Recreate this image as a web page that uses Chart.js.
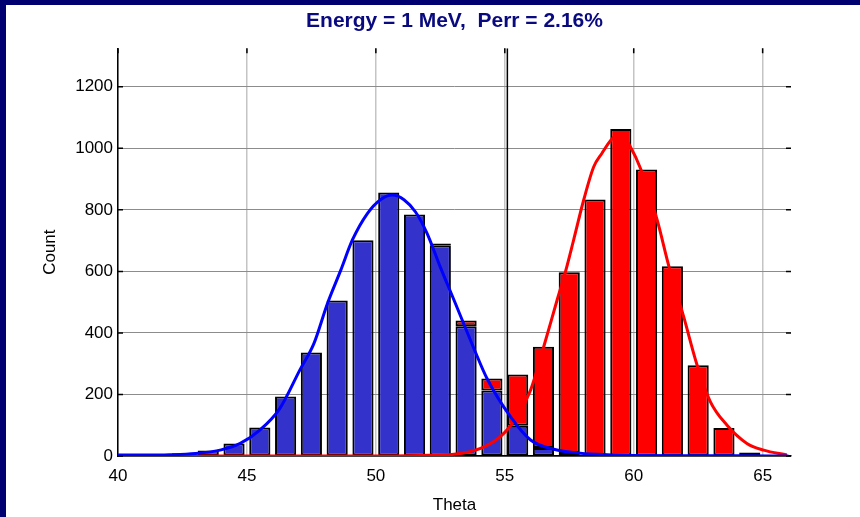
<!DOCTYPE html>
<html>
<head>
<meta charset="utf-8">
<script src="https://cdn.jsdelivr.net/npm/chart.js@4"></script>
<style>
  html, body { margin: 0; padding: 0; background: #000070; }
  #frame { position: absolute; left: 6px; top: 5px; width: 854px; height: 512px; background: #fff; }
</style>
</head>
<body>
<div id="frame"><canvas id="thetaChart" width="854" height="512"></canvas></div>
<script>
// histogram bins (Theta) and counts, blue at the bottom, red stacked on top
const binCenters = [42.5, 43.5, 44.5, 45.5, 46.5, 47.5, 48.5, 49.5, 50.5, 51.5, 52.5, 53.5,
                    54.5, 55.5, 56.5, 57.5, 58.5, 59.5, 60.5, 61.5, 62.5, 63.5, 64.5];
const blueCounts = [9, 18, 41, 93, 193, 336, 505, 701, 856, 785, 685, 422,
                    213, 98, 26, 10, 3, 2, 1, 0, 0, 0, 0];
const redCounts  = [0, 0, 0, 0, 0, 0, 0, 0, 0, 0, 6, 18,
                    39, 167, 329, 587, 831, 1061, 930, 617, 295, 91, 11];

// fitted curves
const blueFitX = [40, 41, 42, 43, 44, 44.74, 45.5, 46.28, 47.05, 47.6, 48.12, 48.64, 49.09, 49.67,
                  50.18, 50.64, 51.09, 51.54, 51.99, 52.5, 53.03, 53.8, 54.31, 55.22, 56, 56.9,
                  57.93, 58.97, 60, 62, 64, 66];
const blueFitY = [3, 3, 4, 8, 20, 41, 84, 155, 279, 366, 495, 604, 702, 788,
                  833, 848, 833, 793, 723, 614, 507, 350, 252, 128, 52, 22,
                  9, 4, 2, 1, 1, 0];
const redFitX = [40, 44, 48, 50, 51.73, 53.03, 54.06, 54.83, 55.48, 56, 56.51, 57.03, 57.35, 57.67,
                 58.06, 58.45, 58.77, 59.12, 59.48, 59.87, 60.26, 60.91, 61.36, 61.94, 62.46,
                 62.97, 63.62, 64.39, 65.04, 65.94];
const redFitY = [0, 0, 0, 0, 2, 6, 25, 63, 128, 214, 355, 507, 598, 702,
                 832, 940, 984, 1027, 1050, 1005, 935, 767, 618, 452, 295,
                 177, 100, 41, 19, 3];

const cutTheta = 55.1;
const xTicks = [40, 45, 50, 55, 60, 65];
const yTicks = [0, 200, 400, 600, 800, 1000, 1200];
const xMin = 40, xMax = 66.1, yMax = 1325;
const chartTitle = 'Energy = 1 MeV,  Perr = 2.16%';

const toPoints = (xs, ys) => xs.map((x, i) => ({ x: x, y: ys[i] }));

// title centred over the plot area, plus small inward black ticks on the box edges
const plotDecor = {
    id: 'plotDecor',
    afterDraw(chart) {
        const { ctx, chartArea: a, scales: { x, y } } = chart;
        ctx.save();
        ctx.strokeStyle = '#000';
        ctx.lineWidth = 1.5;
        ctx.beginPath();
        xTicks.forEach(v => {
            const px = x.getPixelForValue(v);
            ctx.moveTo(px, a.top); ctx.lineTo(px, a.top + 5);
        });
        yTicks.forEach(v => {
            const py = y.getPixelForValue(v);
            ctx.moveTo(a.left, py); ctx.lineTo(a.left + 5, py);
            ctx.moveTo(a.right, py); ctx.lineTo(a.right - 5, py);
        });
        ctx.stroke();

        ctx.fillStyle = '#0a0a80';
        ctx.font = 'bold 21px "Liberation Sans", Arial, sans-serif';
        ctx.textAlign = 'center';
        ctx.textBaseline = 'middle';
        ctx.fillText(chartTitle, (a.left + a.right) / 2, 16);
        ctx.restore();
    }
};

const tickFont = { family: '"Liberation Sans", Arial, sans-serif', size: 17 };

new Chart(document.getElementById('thetaChart').getContext('2d'), {
    type: 'bar',
    data: {
        datasets: [
            {
                type: 'line', label: 'blue fit', stack: 'bfit', order: 1,
                data: toPoints(blueFitX, blueFitY),
                borderColor: '#0000ff', borderWidth: 3, pointRadius: 0,
                cubicInterpolationMode: 'monotone'
            },
            {
                type: 'line', label: 'red fit', stack: 'rfit', order: 2,
                data: toPoints(redFitX, redFitY),
                borderColor: '#ff0000', borderWidth: 3, pointRadius: 0,
                cubicInterpolationMode: 'monotone'
            },
            {
                type: 'line', label: 'cut', stack: 'cut', order: 3,
                data: [{ x: cutTheta, y: 0 }, { x: cutTheta, y: yMax }],
                borderColor: '#000', borderWidth: 1.5, pointRadius: 0
            },
            {
                label: 'blue', stack: 'hist', order: 4,
                data: toPoints(binCenters, blueCounts),
                backgroundColor: '#3333cc', borderColor: '#000', borderWidth: 2,
                borderSkipped: false, barPercentage: 0.82, categoryPercentage: 1
            },
            {
                label: 'red', stack: 'hist', order: 5,
                data: toPoints(binCenters, redCounts),
                backgroundColor: '#ff0000', borderColor: '#000', borderWidth: 2,
                borderSkipped: false, barPercentage: 0.82, categoryPercentage: 1
            }
        ]
    },
    options: {
        responsive: false,
        animation: false,
        layout: { padding: { left: 0, right: 69, top: 43.3, bottom: 0 } },
        plugins: {
            legend: { display: false },
            tooltip: { enabled: false },
            title: { display: false }
        },
        scales: {
            x: {
                type: 'linear', stacked: true, min: xMin, max: xMax, offset: false,
                afterBuildTicks: s => { s.ticks = xTicks.map(v => ({ value: v })); },
                afterFit: s => { s.height = 61; },
                ticks: { color: '#000', font: tickFont, padding: 10, maxRotation: 0, callback: v => String(v) },
                grid: { color: '#c4c4c4', lineWidth: 1.5, drawTicks: false, offset: false },
                border: { color: '#000', width: 1.5 },
                title: { display: true, text: 'Theta', color: '#000', font: tickFont, padding: { top: 0, bottom: 1 } }
            },
            y: {
                stacked: true, min: 0, max: yMax,
                afterBuildTicks: s => { s.ticks = yTicks.map(v => ({ value: v })); },
                afterFit: s => { s.width = 112; },
                ticks: { color: '#000', font: tickFont, padding: 5, callback: v => String(v) },
                grid: { color: '#8c8c8c', lineWidth: 1, drawTicks: false },
                border: { color: '#000', width: 1.5 },
                title: { display: true, text: 'Count', color: '#000', font: tickFont, padding: { top: 34, bottom: 0 } }
            }
        }
    },
    plugins: [plotDecor]
});
</script>
</body>
</html>
